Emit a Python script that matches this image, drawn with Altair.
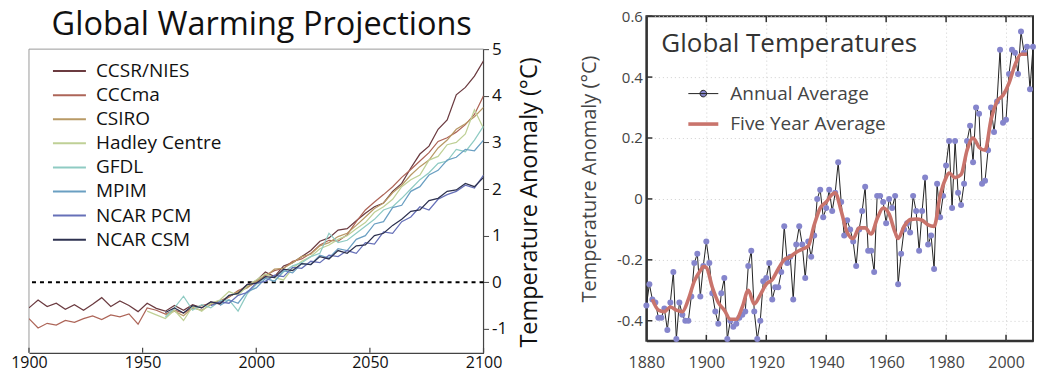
import altair as alt
import pandas as pd

FONT = "Open Sans"

# ---------------- Left panel: model projections ----------------
models = ["CCSR/NIES", "CCCma", "CSIRO", "Hadley Centre", "GFDL", "MPIM", "NCAR PCM", "NCAR CSM"]
model_colors = ["#6b3b40", "#ad6558", "#b89a66", "#bfd096", "#8fcbc3", "#6a9fc2", "#6670b8", "#2e3250"]
model_start = [1900, 1900, 1960, 1952, 1960, 1984, 1980, 1960]
STEP = 4

ccsr_nies = [-0.55, -0.38, -0.52, -0.45, -0.58, -0.48, -0.60, -0.47, -0.33, -0.52,
             -0.40, -0.50, -0.63, -0.45, -0.56, -0.62, -0.50, -0.60, -0.48, -0.55,
             -0.42, -0.47, -0.30, -0.22, -0.05, 0.03, 0.22, 0.12, 0.35, 0.42,
             0.55, 0.68, 0.88, 0.95, 1.12, 1.15, 1.32, 1.48, 1.62, 1.70,
             1.95, 2.12, 2.45, 2.75, 2.92, 3.28, 3.48, 4.02, 4.18, 4.42,
             4.75]
cccma = [-0.78, -0.98, -0.88, -0.92, -0.82, -0.86, -0.78, -0.72, -0.80, -0.70,
         -0.74, -0.68, -0.90, -0.55, -0.60, -0.68, -0.60, -0.66, -0.55, -0.50,
         -0.45, -0.40, -0.32, -0.18, -0.10, 0.00, 0.15, 0.25, 0.30, 0.45,
         0.50, 0.62, 0.80, 0.90, 0.88, 1.02, 1.30, 1.55, 1.72, 1.88,
         2.05, 2.25, 2.42, 2.60, 2.78, 3.02, 3.10, 3.22, 3.38, 3.60,
         4.00]
csiro = [-0.70, -0.62, -0.72, -0.55, -0.60,
         -0.48, -0.42, -0.30, -0.20, -0.12,
         0.02, 0.12, 0.28, 0.30, 0.42,
         0.55, 0.60, 0.78, 0.85, 0.98,
         1.05, 1.22, 1.40, 1.58, 1.70,
         1.92, 2.08, 2.30, 2.48, 2.62,
         2.88, 3.05, 3.28, 3.40, 3.55,
         3.75]
hadley = [-0.62, -0.70,
          -0.78, -0.60, -0.82, -0.52, -0.62,
          -0.45, -0.38, -0.20, -0.28, -0.08,
          0.05, 0.18, 0.10, 0.05, 0.30,
          0.45, 0.55, 0.72, 0.80, 0.92,
          1.00, 1.15, 1.28, 1.50, 1.62,
          1.78, 2.05, 2.20, 2.30, 2.62,
          2.70, 2.95, 3.00, 3.18, 3.70,
          3.30]
gfdl = [-0.75, -0.55, -0.30, -0.60, -0.48,
        -0.55, -0.40, -0.38, -0.62, -0.25,
        -0.05, 0.10, 0.02, 0.22, 0.35,
        0.42, 0.55, 0.62, 1.05, 0.85,
        0.90, 1.05, 1.20, 1.35, 1.55,
        1.62, 1.80, 2.00, 2.20, 2.35,
        2.55, 2.60, 2.85, 2.80, 3.05,
        3.35]
mpim = [-0.50, -0.38, -0.45, -0.20,
        -0.12, 0.08, 0.02, 0.25, 0.20,
        0.40, 0.38, 0.58, 0.52, 0.72,
        0.68, 0.92, 1.00, 1.25, 1.30,
        1.60, 1.65, 1.95, 2.05, 2.30,
        2.40, 2.62, 2.68, 2.85, 2.82,
        3.05]
ncar_pcm = [-0.50, -0.42, -0.45, -0.28, -0.22,
            -0.02, 0.02, 0.15, 0.12, 0.32,
            0.30, 0.45, 0.42, 0.58, 0.55,
            0.68, 0.62, 0.85, 0.82, 1.08,
            1.05, 1.30, 1.40, 1.62, 1.55,
            1.78, 1.88, 1.95, 2.08, 2.02,
            2.30]
ncar_csm = [-0.65, -0.55, -0.66, -0.50, -0.55,
            -0.42, -0.46, -0.28, -0.24, -0.05,
            -0.02, 0.12, 0.10, 0.28, 0.25,
            0.40, 0.38, 0.55, 0.50, 0.68,
            0.62, 0.78, 0.80, 1.00, 1.05,
            1.22, 1.35, 1.52, 1.55, 1.75,
            1.80, 1.95, 1.98, 2.12, 2.05,
            2.25]
model_values = [ccsr_nies, cccma, csiro, hadley, gfdl, mpim, ncar_pcm, ncar_csm]

left_x_ticks = [1900, 1950, 2000, 2050, 2100]
left_y_ticks = [-1, 0, 1, 2, 3, 4, 5]

# ---------------- Right panel: observed temperatures ----------------
obs_years = list(range(1880, 2010))
annual = [-0.35, -0.28, -0.33, -0.34, -0.39, -0.39, -0.36, -0.43, -0.34, -0.24,
          -0.46, -0.34, -0.38, -0.40, -0.40, -0.32, -0.21, -0.18, -0.32, -0.22,
          -0.14, -0.21, -0.31, -0.37, -0.41, -0.31, -0.26, -0.46, -0.40, -0.42,
          -0.41, -0.39, -0.38, -0.37, -0.22, -0.17, -0.37, -0.46, -0.40, -0.27,
          -0.26, -0.21, -0.33, -0.29, -0.29, -0.24, -0.09, -0.21, -0.19, -0.33,
          -0.15, -0.09, -0.15, -0.26, -0.14, -0.19, -0.12, 0.00, 0.03, -0.06,
          -0.03, 0.03, -0.04, 0.02, 0.12, -0.01, -0.12, -0.07, -0.10, -0.14,
          -0.22, -0.10, -0.04, 0.04, -0.17, -0.17, -0.24, 0.01, 0.01, -0.01,
          -0.08, 0.00, -0.03, 0.01, -0.28, -0.18, -0.10, -0.08, -0.11, 0.01,
          -0.04, -0.17, -0.04, 0.07, -0.15, -0.12, -0.23, 0.05, -0.06, 0.01,
          0.11, 0.19, -0.03, 0.19, 0.02, -0.02, 0.05, 0.19, 0.24, 0.12,
          0.30, 0.28, 0.05, 0.06, 0.16, 0.30, 0.22, 0.32, 0.49, 0.25,
          0.26, 0.41, 0.49, 0.48, 0.41, 0.55, 0.48, 0.50, 0.36, 0.50]

five_years = [1882, 1884, 1886, 1888, 1890, 1892, 1894, 1896, 1898, 1899,
              1900, 1902, 1904, 1906, 1908, 1910, 1912, 1914, 1916, 1918,
              1920, 1922, 1924, 1926, 1928, 1930, 1932, 1934, 1936, 1938,
              1940, 1942, 1943, 1945, 1947, 1949, 1951, 1953, 1955, 1957,
              1959, 1961, 1963, 1964, 1966, 1968, 1970, 1972, 1974, 1976,
              1978, 1980, 1981, 1983, 1985, 1987, 1989, 1991, 1993, 1995,
              1997, 1999, 2001, 2003, 2005, 2007]
five_vals = [-0.33, -0.365, -0.37, -0.355, -0.365, -0.37, -0.33, -0.27, -0.235, -0.222,
             -0.225, -0.29, -0.34, -0.365, -0.395, -0.395, -0.355, -0.30, -0.345, -0.315,
             -0.28, -0.265, -0.23, -0.20, -0.19, -0.175, -0.165, -0.155, -0.085, -0.03,
             -0.01, 0.015, 0.02, -0.04, -0.11, -0.13, -0.095, -0.095, -0.115, -0.065,
             -0.03, -0.05, -0.11, -0.13, -0.09, -0.068, -0.066, -0.07, -0.085, -0.09,
             0.01, 0.07, 0.085, 0.07, 0.08, 0.16, 0.20, 0.17, 0.16, 0.26,
             0.32, 0.34, 0.38, 0.44, 0.475, 0.475]

series_names = ["Annual Average", "Five Year Average"]
right_x_ticks = [1880, 1900, 1920, 1940, 1960, 1980, 2000]
right_y_ticks = [-0.4, -0.2, 0.0, 0.2, 0.4, 0.6]

# ---------------- tables ----------------
rows = []
for name, start, vals in zip(models, model_start, model_values):
    for i, v in enumerate(vals):
        rows.append({"model": name, "year": start + STEP * i, "anomaly": v})
df_models = pd.DataFrame(rows)
df_zero = pd.DataFrame({"anomaly": [0]})
df_title = pd.DataFrame({"label": ["Global Warming Projections"]})
df_lxt = pd.DataFrame({"year": left_x_ticks})

df_annual = pd.DataFrame({"year": obs_years, "value": annual, "series": series_names[0]})
df_five = pd.DataFrame({"year": five_years, "value": five_vals, "series": series_names[1]})
df_xt = pd.DataFrame({"year": right_x_ticks[1:]})
df_yt = pd.DataFrame({"value": right_y_ticks})
df_label = pd.DataFrame({"label": ["Global Temperatures"]})

# ---------------- left chart ----------------
LW, LH = 455, 337
L_XMIN, L_XMAX = 1900, 2100
L_YMIN, L_YTOP, L_YMAX = -1.514, 5, 5.707
lx_scale = alt.Scale(domain=[L_XMIN, L_XMAX], nice=False, zero=False)
ly_scale = alt.Scale(domain=[L_YMIN, L_YMAX], nice=False, zero=False)

left_lines = alt.Chart(df_models).mark_line(strokeWidth=1.25, clip=True).encode(
    x=alt.X("year:Q", scale=lx_scale,
            axis=alt.Axis(values=left_x_ticks, format="d", title=None, labelFontSize=16,
                          labelColor="#111", labelPadding=2, labelFlush=False, tickSize=0,
                          domainColor="#444", domainWidth=1.2, grid=False)),
    y=alt.Y("anomaly:Q", scale=ly_scale,
            axis=alt.Axis(orient="right", values=left_y_ticks, labelExpr="'' + datum.value",
                          title="Temperature Anomaly (°C)", titleAngle=270, titleBaseline="top",
                          titleFontSize=23.5, titleFontWeight="normal", titleColor="#111",
                          titlePadding=11, titleY=186,
                          labelFontSize=17, labelColor="#111", labelPadding=3, tickSize=5,
                          tickColor="#444", domain=False, grid=False)),
    color=alt.Color("model:N", sort=models,
                    scale=alt.Scale(domain=models, range=model_colors),
                    legend=alt.Legend(title=None, orient="none", legendX=23, legendY=46,
                                      symbolType="stroke", symbolSize=1089, symbolStrokeWidth=2,
                                      labelFontSize=19, labelColor="#111", labelOffset=9,
                                      clipHeight=18, rowPadding=5.1, padding=0)),
    detail="model:N",
)
left_zero = alt.Chart(df_zero).mark_rule(color="black", strokeWidth=1.8, strokeDash=[4, 4]).encode(
    y=alt.Y("anomaly:Q", scale=ly_scale)
)
frame_top = alt.Chart(df_zero).mark_rule(color="#9a9a9a", strokeWidth=1).encode(
    x=alt.datum(L_XMIN), x2=alt.datum(L_XMAX), y=alt.datum(L_YTOP))
frame_left = alt.Chart(df_zero).mark_rule(color="#9a9a9a", strokeWidth=1).encode(
    x=alt.datum(L_XMIN), y=alt.datum(L_YMIN), y2=alt.datum(L_YTOP))
frame_right = alt.Chart(df_zero).mark_rule(color="#444", strokeWidth=1.2).encode(
    x=alt.datum(L_XMAX), y=alt.datum(L_YMIN), y2=alt.datum(L_YTOP))
bottom_ticks_l = alt.Chart(df_lxt).mark_rule(color="#444", strokeWidth=1.2).encode(
    x=alt.X("year:Q", scale=lx_scale), y=alt.value(LH), y2=alt.value(LH - 5))
left_title = alt.Chart(df_title).mark_text(align="center", baseline="alphabetic", fontSize=32.5,
                                          color="#111").encode(
    x=alt.datum(2002.4), y=alt.datum(5.31), text="label:N")

left = alt.layer(frame_top, frame_left, frame_right, left_zero, left_lines, bottom_ticks_l,
                 left_title).properties(
    width=LW, height=LH,
    view=alt.ViewBackground(stroke="transparent", strokeWidth=0),
)

# ---------------- right chart ----------------
RW, RH = 387, 325
rx_scale = alt.Scale(domain=[1880, 2009], nice=False, zero=False)
ry_scale = alt.Scale(domain=[-0.466, 0.6], nice=False, zero=False)

rx = alt.X("year:Q", scale=rx_scale,
           axis=alt.Axis(values=right_x_ticks, format="d", title=None, labelFontSize=16,
                         labelColor="#444", labelPadding=14, labelFlush=False, tickSize=0,
                         domainColor="#333", domainWidth=2, grid=True, gridColor="#cfcfcf",
                         gridDash=[1, 3], gridWidth=1))
ry = alt.Y("value:Q", scale=ry_scale,
           axis=alt.Axis(values=right_y_ticks, labelExpr="'' + datum.value",
                         title="Temperature Anomaly (°C)", titleFontSize=20,
                         titleFontWeight="normal", titleColor="#444", titlePadding=17,
                         labelFontSize=15, labelColor="#444", labelPadding=4, tickSize=0,
                         domainColor="#333", domainWidth=2, grid=True, gridColor="#cfcfcf",
                         gridDash=[1, 3], gridWidth=1))

DOT_PATH = "M-1,0L1,0M0.22,0A0.22,0.22,0,1,1,-0.22,0A0.22,0.22,0,1,1,0.22,0"
series_legend = alt.Legend(
    title=None, orient="none", legendX=40, legendY=62,
    symbolType=alt.ExprRef(expr="datum.value == 'Annual Average' ? '" + DOT_PATH + "' : 'stroke'"),
    symbolFillColor=alt.ExprRef(expr="datum.value == 'Annual Average' ? '#8585cc' : 'transparent'"),
    symbolSize=900, labelFontSize=19, labelColor="#444", labelOffset=10, rowPadding=3, padding=0,
)
series_color = alt.Color("series:N", scale=alt.Scale(domain=series_names, range=["#222222", "#c9746c"]),
                         legend=series_legend)
series_width = alt.StrokeWidth("series:N", scale=alt.Scale(domain=series_names, range=[1, 3.6]),
                               legend=series_legend)

annual_line = alt.Chart(df_annual).mark_line().encode(x=rx, y=ry, color=series_color, strokeWidth=series_width)
annual_pts = alt.Chart(df_annual).mark_circle(size=36, color="#8585cc", opacity=1).encode(x=rx, y=ry)
five_line = alt.Chart(df_five).mark_line(interpolate="monotone").encode(
    x=rx, y=ry, color=series_color, strokeWidth=series_width)

top_ticks = alt.Chart(df_xt).mark_rule(color="#333", strokeWidth=1.5).encode(
    x=alt.X("year:Q", scale=rx_scale), y=alt.value(0), y2=alt.value(6))
bottom_ticks = alt.Chart(df_xt).mark_rule(color="#333", strokeWidth=1.5).encode(
    x=alt.X("year:Q", scale=rx_scale), y=alt.value(RH), y2=alt.value(RH - 6))
left_ticks = alt.Chart(df_yt).mark_rule(color="#333", strokeWidth=1.5).encode(
    y=alt.Y("value:Q", scale=ry_scale), x=alt.value(0), x2=alt.value(6))

title_text = alt.Chart(df_label).mark_text(align="left", baseline="alphabetic", fontSize=26,
                                          color="#333").encode(
    x=alt.datum(1885), y=alt.datum(0.482), text="label:N")

right = alt.layer(annual_line, annual_pts, five_line, top_ticks, bottom_ticks, left_ticks,
                  title_text).properties(
    width=RW, height=RH,
    view=alt.ViewBackground(stroke="#333", strokeWidth=2),
)

chart = alt.hconcat(left, right, spacing=37).resolve_scale(
    color="independent", strokeWidth="independent"
).properties(padding={"left": 2, "top": 0, "right": 0, "bottom": 2}).configure(font=FONT)

chart.save("out.html", embed_options={"renderer": "svg", "actions": False})
